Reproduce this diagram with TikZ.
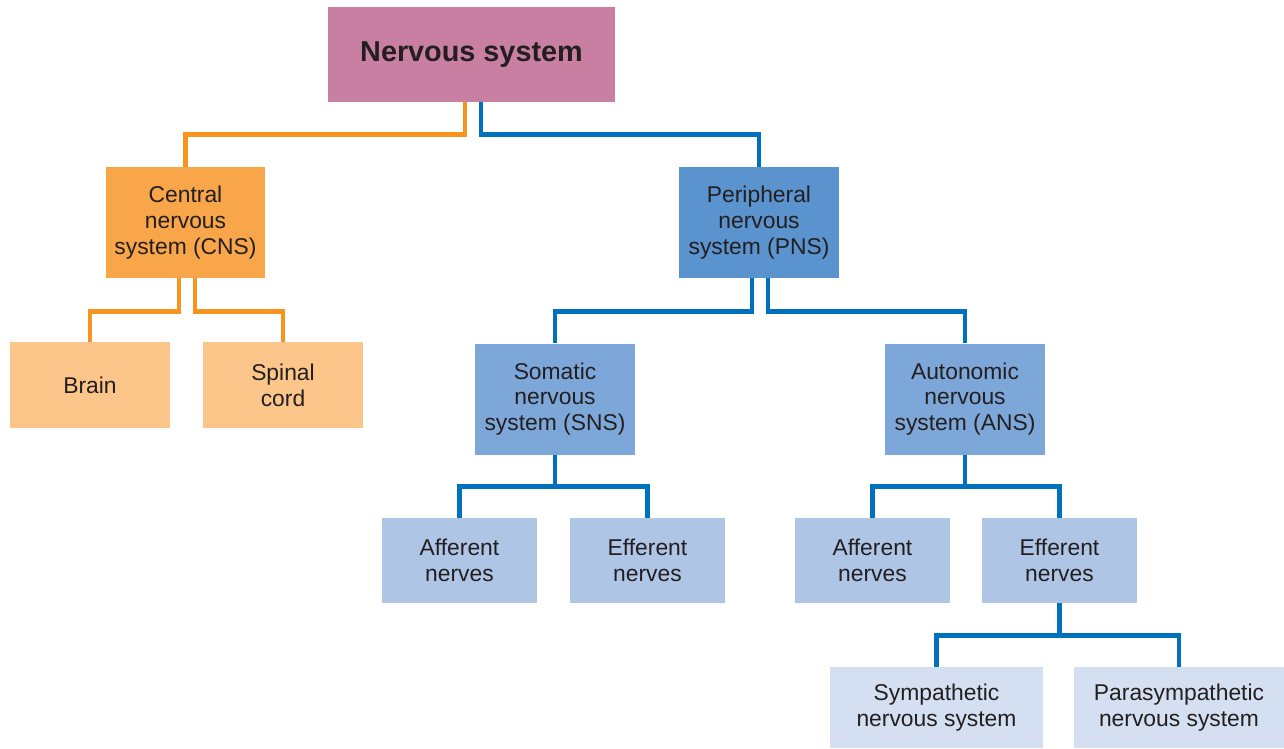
\documentclass[tikz,border=0pt]{standalone}
\usepackage{fontspec}
\setmainfont{Liberation Sans}
\usetikzlibrary{positioning}
\definecolor{nspink}{HTML}{C97FA1}
\definecolor{cnsorange}{HTML}{F9A54A}
\definecolor{cnslight}{HTML}{FCC68A}
\definecolor{pnsblue}{HTML}{5A93CE}
\definecolor{subblue}{HTML}{7DA7D9}
\definecolor{nerveblue}{HTML}{AEC5E6}
\definecolor{paleblue}{HTML}{D4E0F1}
\definecolor{lineorange}{HTML}{F7941D}
\definecolor{lineblue}{HTML}{0071BC}
\definecolor{textgray}{HTML}{231F20}
\tikzset{box/.style={rectangle, inner sep=0pt, align=center, text=textgray, font=\fontsize{13}{14.7}\selectfont},
  bigbox/.style={box, minimum width=3.2cm, minimum height=2.22cm},
  leafbox/.style={box, minimum width=3.1cm, minimum height=1.7cm, fill=nerveblue},
  olink/.style={draw=lineorange, line width=2.8pt},
  blink/.style={draw=lineblue, line width=2.8pt}}

\begin{document}
\begin{tikzpicture}[x=0.02cm, y=-0.02cm]
				\useasboundingbox (0,0) rectangle (1284,748);

				\node[box, fill=nspink, minimum width=5.74cm, minimum height=1.9cm, font=\fontsize{16.4}{18}\selectfont\bfseries] (NS) at (471.5,54.5) {Nervous system};
				\node[bigbox, fill=cnsorange] (CNS) at (185.5,222.5) {Central\\nervous\\system (CNS)};
				\node[bigbox, fill=pnsblue] (PNS) at (759,222.5) {Peripheral\\nervous\\system (PNS)};
				\node[box, fill=cnslight, minimum width=3.2cm, minimum height=1.72cm] (Brain) at (90,385) {Brain};
				\node[box, fill=cnslight, minimum width=3.2cm, minimum height=1.72cm] (Spinal) at (283,385) {Spinal\\cord};
				\node[bigbox, fill=subblue] (SNS) at (555,399) {Somatic\\nervous\\system (SNS)};
				\node[bigbox, fill=subblue] (ANS) at (965,399) {Autonomic\\nervous\\system (ANS)};
				\node[leafbox] (Aff1) at (459.5,560.5) {Afferent\\nerves};
				\node[leafbox] (Eff1) at (647.5,560.5) {Efferent\\nerves};
				\node[leafbox] (Aff2) at (872.5,560.5) {Afferent\\nerves};
				\node[leafbox] (Eff2) at (1059.5,560.5) {Efferent\\nerves};
				\node[box, fill=paleblue, minimum width=4.26cm, minimum height=1.62cm] (Symp) at (936.5,707.5) {Sympathetic\\nervous system};
				\node[box, fill=paleblue, minimum width=4.2cm, minimum height=1.62cm] (Para) at (1179,707.5) {Parasympathetic\\nervous system};

				% split connectors
				\path[olink] ([xshift=-0.13cm]NS.south) -- ++(0,32) -| (CNS.north);
				\path[blink] ([xshift=0.19cm]NS.south) -- ++(0,32) -| (PNS.north);
				\path[olink] ([xshift=-0.13cm]CNS.south) -- ++(0,33) -| (Brain.north);
				\path[olink] ([xshift=0.19cm]CNS.south) -- ++(0,33) -| (Spinal.north);
				\path[blink] ([xshift=-0.14cm]PNS.south) -- ++(0,33) -| (SNS.north);
				\path[blink] ([xshift=0.18cm]PNS.south) -- ++(0,33) -| (ANS.north);

				% shared connectors
				\path[blink]
				(SNS.south) -- ++(0,32) coordinate (sbus)
				(sbus) -| (Aff1.north)
				(sbus) -| (Eff1.north)
				(ANS.south) -- ++(0,32) coordinate (abus)
				(abus) -| (Aff2.north)
				(abus) -| (Eff2.north)
				(Eff2.south) -- ++(0,32) coordinate (ebus)
				(ebus) -| (Symp.north)
				(ebus) -| (Para.north)
				;

			\end{tikzpicture}
\end{document}
